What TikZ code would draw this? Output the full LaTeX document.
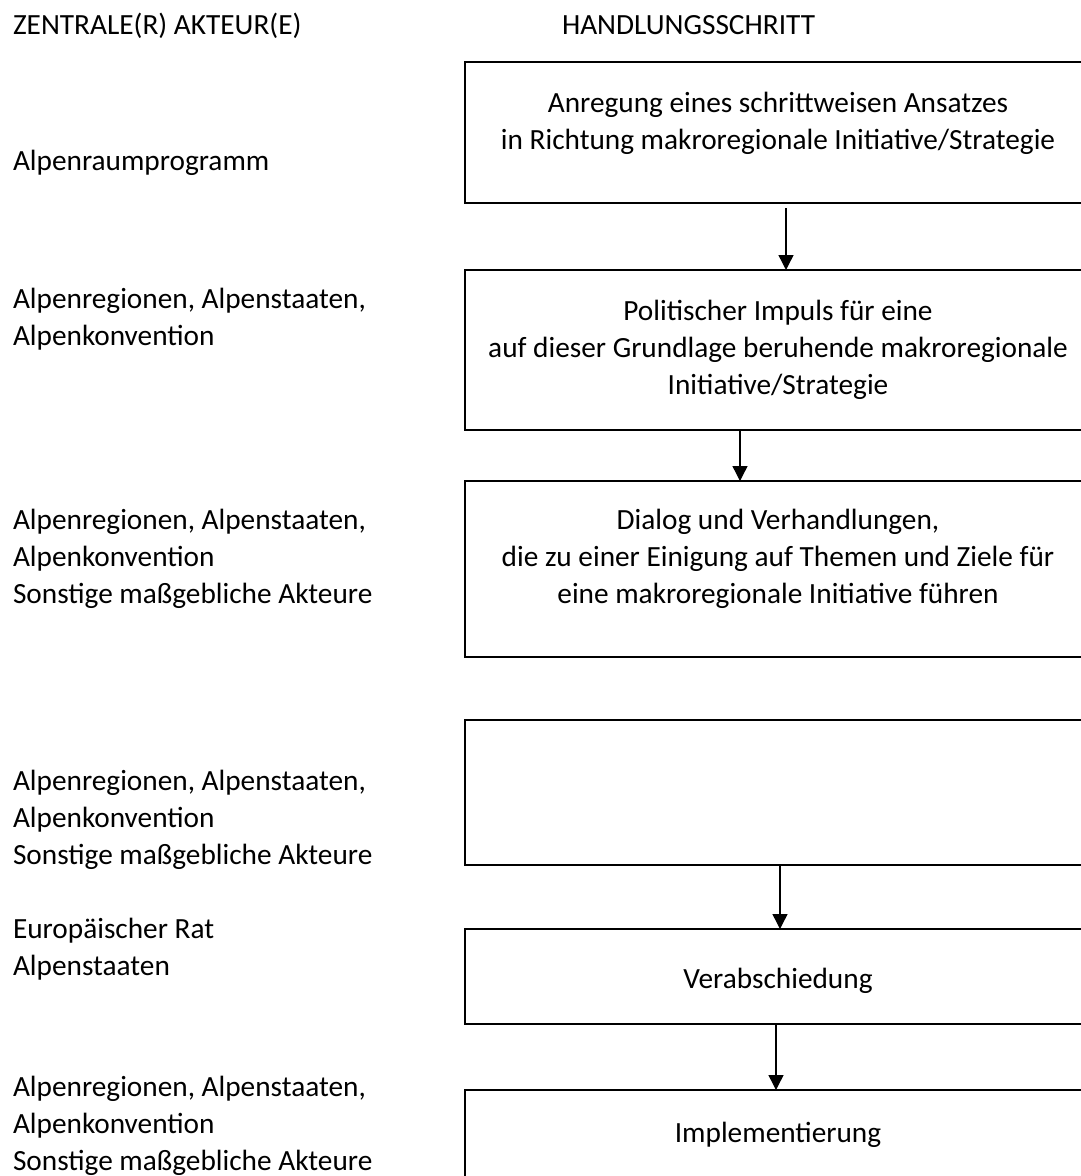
\documentclass[tikz,border=0pt]{standalone}
\usepackage{fontspec}
\setmainfont{Carlito}
\usetikzlibrary{arrows.meta}
\begin{document}
\begin{tikzpicture}[x=1pt,y=-1pt,
  txt/.style={font=\fontsize{29.3}{37}\selectfont, inner sep=0pt, outer sep=0pt},
  lefttxt/.style={txt, anchor=base west, align=left},
  boxtxt/.style={txt, anchor=base, align=center},
  stepbox/.style={draw, line width=1.8pt, anchor=north west, minimum width=626pt, inner sep=0pt, outer sep=0pt},
  arr/.style={line width=1.4pt, -{Triangle[width=15pt,length=15pt]}}
]
\clip (0,0) rectangle (1081,1176);
\fill[white] (0,0) rectangle (1081,1176);

% headers
\node[lefttxt] (h1) at (13,34) {ZENTRALE(R) AKTEUR(E)};
\node[lefttxt] (h2) at (562,34) {HANDLUNGSSCHRITT};

% boxes
\node[stepbox, minimum height=141pt] (b1) at (465,62) {};
\node[stepbox, minimum height=160pt] (b2) at (465,270) {};
\node[stepbox, minimum height=176pt] (b3) at (465,481) {};
\node[stepbox, minimum height=145pt] (b4) at (465,720) {};
\node[stepbox, minimum height=95pt]  (b5) at (465,929) {};
\node[stepbox, minimum height=140pt] (b6) at (465,1090) {};

% box texts (base = baseline of the last line)
\node[boxtxt] (t1) at (778,149) {Anregung eines schrittweisen Ansatzes\\in Richtung makroregionale Initiative/Strategie};
\node[boxtxt] (t2) at (778,394) {Politischer Impuls für eine\\auf dieser Grundlage beruhende makroregionale\\Initiative/Strategie};
\node[boxtxt] (t3) at (778,603) {Dialog und Verhandlungen,\\die zu einer Einigung auf Themen und Ziele für\\eine makroregionale Initiative führen};
\node[boxtxt] (t5) at (778,988) {Verabschiedung};
\node[boxtxt] (t6) at (778,1142) {Implementierung};

% left column
\node[lefttxt] (l1) at (13,170) {Alpenraumprogramm};
\node[lefttxt] (l2) at (13,345) {Alpenregionen, Alpenstaaten,\\Alpenkonvention};
\node[lefttxt] (l3) at (13,603) {Alpenregionen, Alpenstaaten,\\Alpenkonvention\\Sonstige maßgebliche Akteure};
\node[lefttxt] (l4) at (13,864) {Alpenregionen, Alpenstaaten,\\Alpenkonvention\\Sonstige maßgebliche Akteure};
\node[lefttxt] (l5) at (13,975) {Europäischer Rat\\Alpenstaaten};
\node[lefttxt] (l6) at (13,1170) {Alpenregionen, Alpenstaaten,\\Alpenkonvention\\Sonstige maßgebliche Akteure};

% arrow columns
\coordinate (c1) at (786,0);
\coordinate (c2) at (740,0);
\coordinate (c3) at (780,0);
\coordinate (c4) at (776,0);

\draw[arr] ([yshift=-5pt]b1.south -| c1) -- (b2.north -| c1);
\draw[arr] (b2.south -| c2) -- (b3.north -| c2);
\draw[arr] (b4.south -| c3) -- (b5.north -| c3);
\draw[arr] (b5.south -| c4) -- (b6.north -| c4);
\end{tikzpicture}
\end{document}
